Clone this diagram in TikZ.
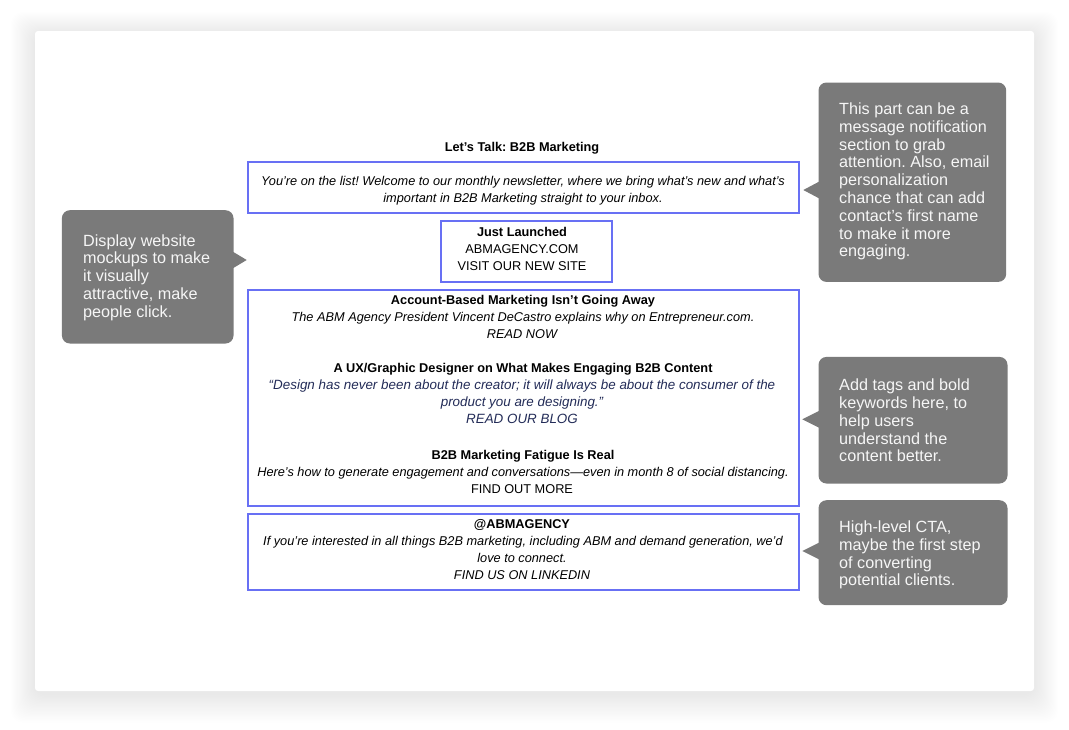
\documentclass[tikz,border=0pt]{standalone}
\usepackage{fontspec}
\setmainfont{Liberation Sans}
\frenchspacing
\definecolor{boxblue}{RGB}{104,112,244}
\definecolor{callgray}{RGB}{122,122,122}
\definecolor{calltxt}{RGB}{246,246,246}
\definecolor{navy}{RGB}{35,44,88}
\begin{document}
\frenchspacing
\begin{tikzpicture}[x=1pt,y=-1pt,
  mbox/.style={draw=boxblue, line width=1.3pt, minimum width=551pt, inner sep=0pt},
  ln/.style={anchor=base, inner sep=0pt, font=\fontsize{12.75}{17}\selectfont},
  lnb/.style={ln, font=\fontsize{12.75}{17}\selectfont\bfseries},
  lni/.style={ln, font=\fontsize{12.75}{17}\selectfont\itshape},
  lnq/.style={ln, text=navy, font=\fontsize{13.4}{17}\selectfont\itshape},
  cbox/.style={fill=callgray, rounded corners=8pt, inner sep=0pt, anchor=north west},
  ctext/.style={anchor=west, inner sep=0pt, align=left, text=calltxt, font=\fontsize{16.2}{17.8}\selectfont}]
\useasboundingbox (0,0) rectangle (1069,729);
\fill[white] (0,0) rectangle (1069,729);
% card shadow
\foreach \i in {1,...,22}{
  \fill[black, opacity=0.0032, rounded corners=12pt] ({35-1.1*\i},{34-1.0*\i}) rectangle ({1034+1.1*\i},{694+1.3*\i});
}
\fill[white, rounded corners=3pt] (35,31) rectangle (1034,691);

% title
\node[lnb] (title) at (522,151) {Let's Talk: B2B Marketing};

% blue boxes
\node[mbox, minimum height=51pt] (box1) at (523.5,187.5) {};
\node[mbox, minimum width=171pt, minimum height=61pt] (box2) at (526.5,251.5) {};
\node[mbox, minimum height=216pt] (box3) at (523.5,398) {};
\node[mbox, minimum height=76pt] (box4) at (523.5,552) {};

% box 1
\node[lni] (b1a) at (523,185) {You're on the list! Welcome to our monthly newsletter, where we bring what's new and what's};
\node[lni] (b1b) at (523,202) {important in B2B Marketing straight to your inbox.};

% box 2
\node[lnb] (b2a) at (522,236) {Just Launched};
\node[ln] (b2b) at (522,253) {ABMAGENCY.COM};
\node[ln] (b2c) at (522,270) {VISIT OUR NEW SITE};

% box 3
\node[lnb] (b3a) at (523,304) {Account-Based Marketing Isn't Going Away};
\node[lni] (b3b) at (523,321) {The ABM Agency President Vincent DeCastro explains why on Entrepreneur.com.};
\node[lni] (b3c) at (522,338) {READ NOW};
\node[lnb] (b3d) at (523,372) {A UX/Graphic Designer on What Makes Engaging B2B Content};
\node[lnq] (b3e) at (522,389) {“Design has never been about the creator; it will always be about the consumer of the};
\node[lnq] (b3f) at (522,406) {product you are designing.”};
\node[lnq] (b3g) at (522,423) {READ OUR BLOG};
\node[lnb] (b3h) at (523,459) {B2B Marketing Fatigue Is Real};
\node[lni] (b3i) at (523,476) {Here's how to generate engagement and conversations—even in month 8 of social distancing.};
\node[ln] (b3j) at (522,493) {FIND OUT MORE};

% box 4
\node[lnb] (b4a) at (522,528) {@ABMAGENCY};
\node[lni] (b4b) at (523,545) {If you're interested in all things B2B marketing, including ABM and demand generation, we'd};
\node[lni] (b4c) at (522,562) {love to connect.};
\node[lni] (b4d) at (522,579) {FIND US ON LINKEDIN};

% callouts
\node[cbox, minimum width=187.7pt, minimum height=199.4pt] (c1) at (818.3,82.3) {};
\node[cbox, minimum width=171.6pt, minimum height=133.3pt] (c0) at (61.7,210) {};
\node[cbox, minimum width=189pt, minimum height=126.6pt] (c2) at (818.3,356.7) {};
\node[cbox, minimum width=189pt, minimum height=105pt] (c3) at (818.3,500) {};

\coordinate (c1tip) at (803.3,190);
\coordinate (c0tip) at (246.7,260);
\coordinate (c2tip) at (802.3,419.3);
\coordinate (c3tip) at (802.3,551);
\fill[callgray] (c1tip) -- ++(17,-9) -- ++(0,18) -- cycle;
\fill[callgray] (c0tip) -- ++(-15,-9) -- ++(0,18) -- cycle;
\fill[callgray] (c2tip) -- ++(18,-9) -- ++(0,18) -- cycle;
\fill[callgray] (c3tip) -- ++(18,-9) -- ++(0,18) -- cycle;

\node[ctext] (c1t) at (839,181.5) {This part can be a\\message notification\\section to grab\\attention. Also, email\\personalization\\chance that can add\\contact’s first name\\to make it more\\engaging.};
\node[ctext] (c0t) at (83,277.5) {Display website\\mockups to make\\it visually\\attractive, make\\people click.};
\node[ctext] (c2t) at (839,420.5) {Add tags and bold\\keywords here, to\\help users\\understand the\\content better.};
\node[ctext] (c3t) at (839,555) {High-level CTA,\\maybe the first step\\of converting\\potential clients.};
\end{tikzpicture}
\end{document}
